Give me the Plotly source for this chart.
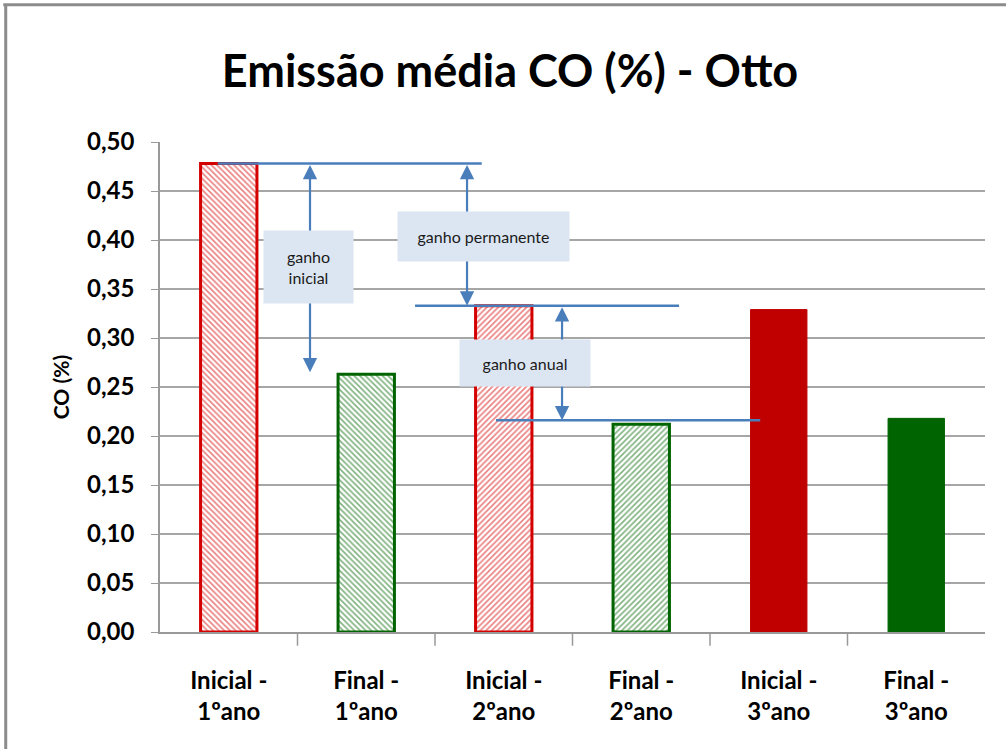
import plotly.graph_objects as go

# Average CO emission per inspection round
categories = ["Inicial -<br>1ºano", "Final -<br>1ºano", "Inicial -<br>2ºano",
              "Final -<br>2ºano", "Inicial -<br>3ºano", "Final -<br>3ºano"]
co_values = [0.478, 0.263, 0.333, 0.212, 0.329, 0.218]
y_ticks = [0.00, 0.05, 0.10, 0.15, 0.20, 0.25, 0.30, 0.35, 0.40, 0.45, 0.50]

# Reference levels used by the gain annotations
level_first = co_values[0]
level_second = co_values[2]
level_annual = 0.216

RED = "#C00000"
RED_LINE = "#D40000"
GREEN = "#006400"
BLUE = "#4A7EBB"
BOX = "#DCE6F2"
FONT = "Lato"

x_pos = list(range(len(categories)))

fig = go.Figure()

# Hatched bars (first two rounds) and solid bars (third round) as separate traces
styles = [("\\", RED_LINE), ("\\", GREEN), ("/", RED_LINE), ("/", GREEN), ("", RED), ("", GREEN)]
for i, (shape, col) in enumerate(styles):
    if shape:
        marker = dict(color="white", line=dict(color=col, width=3),
                      pattern=dict(shape=shape, fgcolor=col, bgcolor="white",
                                   size=4, solidity=0.4, fillmode="overlay"))
    else:
        marker = dict(color=col, line=dict(color=col, width=1))
    fig.add_trace(go.Bar(x=[x_pos[i]], y=[co_values[i]], width=0.41,
                         marker=marker, hoverinfo="y"))

# Horizontal reference lines
for x0, x1, lvl in [(-0.08, 1.84, level_first),
                    (1.355, 3.275, level_second),
                    (1.944, 3.865, level_annual)]:
    fig.add_shape(type="line", xref="x", yref="y", x0=x0, x1=x1, y0=lvl, y1=lvl,
                  line=dict(color=BLUE, width=2.5), layer="above")

# Double-headed arrows
for xa, y_top, y_bot in [(0.591, level_first, co_values[1] + 0.002),
                         (1.733, level_first, level_second),
                         (2.424, level_second, level_annual)]:
    fig.add_annotation(x=xa, y=y_bot, ax=xa, ay=y_top, xref="x", yref="y",
                       axref="x", ayref="y", text="", showarrow=True,
                       arrowhead=2, arrowside="end+start", arrowsize=1.3,
                       arrowwidth=2.2, arrowcolor=BLUE)

# Labelled boxes over the arrows
for xc, yc, txt, w, h in [(0.58, 0.3724, "ganho<br>inicial", 83, 66),
                          (1.853, 0.4036, "ganho permanente", 165, 43),
                          (2.154, 0.2745, "ganho anual", 124, 40)]:
    fig.add_annotation(x=xc, y=yc, xref="x", yref="y", text=txt, showarrow=False,
                       bgcolor=BOX, width=w, height=h, borderpad=3,
                       font=dict(family=FONT, size=16, color="#1a1a1a"))

# Outer chart frame (top and left edges)
fig.add_shape(type="line", xref="paper", yref="paper", x0=-0.19, x1=1.03,
              y0=1.28, y1=1.28, line=dict(color="#8c8c8c", width=3))
fig.add_shape(type="line", xref="paper", yref="paper", x0=-0.187, x1=-0.187,
              y0=1.28, y1=-0.3, line=dict(color="#8c8c8c", width=3))

fig.update_layout(
    width=1006, height=749,
    margin=dict(l=160, r=21, t=142, b=117),
    paper_bgcolor="white", plot_bgcolor="white",
    separators=",.",
    showlegend=False,
    barmode="overlay",
    title=dict(text="<b>Emissão média CO (%) - Otto</b>", x=0.507, xanchor="center",
               y=0.905, yanchor="middle",
               font=dict(family=FONT, size=45, color="black")),
    font=dict(family=FONT, color="black"),
)
fig.update_xaxes(
    tickvals=x_pos, ticktext=categories,
    range=[-0.5, 5.5], showgrid=False, showline=True, linecolor="#999999",
    linewidth=1.5, ticks="", ticklabelstandoff=26,
    tickfont=dict(family=FONT, size=24, color="black", weight="bold"),
)
# Category separator ticks below the axis
for k in range(1, len(categories)):
    fig.add_shape(type="line", xref="x", yref="paper", x0=k - 0.5, x1=k - 0.5,
                  y0=0, y1=-0.028, line=dict(color="#999999", width=1.5))

fig.update_yaxes(
    range=[0, 0.5], tickvals=y_ticks, tickformat=".2f",
    showgrid=True, gridcolor="#a6a6a6", gridwidth=1.5,
    showline=True, linecolor="#999999", linewidth=1.5,
    ticks="outside", ticklen=7, tickcolor="#999999", ticklabelstandoff=12,
    tickfont=dict(family=FONT, size=24, color="black", weight="bold"),
    title=dict(text="CO (%)", font=dict(family=FONT, size=21, color="black",
                                        weight="bold"),
               standoff=12),
    zeroline=False,
)

fig.write_html("out.html")
